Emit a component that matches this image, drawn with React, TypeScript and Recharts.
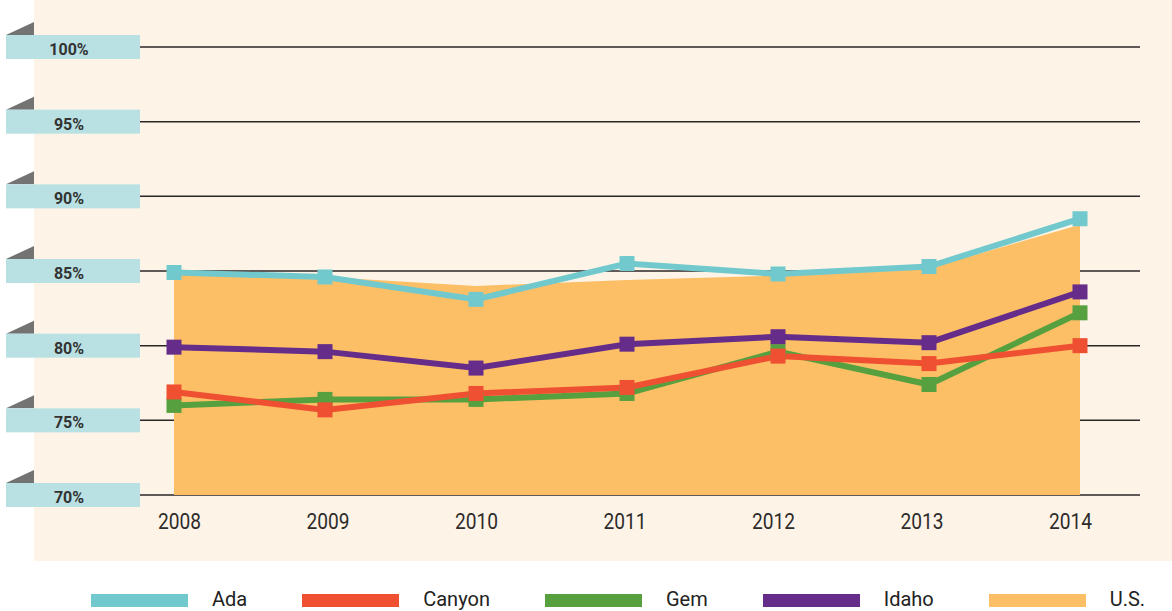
import React from "react";
import {
  ComposedChart,
  Area,
  Line,
  XAxis,
  YAxis,
  CartesianGrid,
} from "recharts";

const years = ["2008", "2009", "2010", "2011", "2012", "2013", "2014"];
const ada = [84.9, 84.6, 83.1, 85.5, 84.8, 85.3, 88.5];
const canyon = [76.9, 75.7, 76.8, 77.2, 79.3, 78.8, 80.0];
const gem = [76.0, 76.4, 76.4, 76.8, 79.6, 77.4, 82.2];
const idaho = [79.9, 79.6, 78.5, 80.1, 80.6, 80.2, 83.6];
const us = [85.1, 84.6, 84.0, 84.4, 84.7, 85.2, 88.1];
const yTicks = [70, 75, 80, 85, 90, 95, 100];

const legendNames = ["Ada", "Canyon", "Gem", "Idaho", "U.S."];
const legendColors = ["#72c9cd", "#ef5032", "#57a03f", "#652d89", "#fcbf66"];

const data = years.map((year, i) => ({
  year,
  ada: ada[i],
  canyon: canyon[i],
  gem: gem[i],
  idaho: idaho[i],
  us: us[i],
}));

const squareDot = (color: string, name: string) => (props: any) => {
  const { cx, cy, index } = props;
  if (cx == null || cy == null) return <g key={`${name}-${index}`} />;
  return (
    <rect
      key={`${name}-${index}`}
      x={cx - 7.5}
      y={cy - 7.5}
      width={15}
      height={15}
      fill={color}
    />
  );
};

const YTick = (props: any) => {
  const { y, payload } = props;
  return (
    <g>
      <polygon points={`6,${y - 12} 34,${y - 12} 34,${y - 25}`} fill="#737373" />
      <rect x={6} y={y - 12} width={134} height={24} fill="#b9e1e3" />
      <text
        x={69}
        y={y + 8}
        textAnchor="middle"
        fontFamily="Roboto"
        fontWeight={700}
        fontSize={16}
        fill="#333"
      >
        {payload.value}%
      </text>
    </g>
  );
};

// year labels sit a little off the points in the original, drifting left
const XTick = (props: any) => {
  const { x, y, payload, index } = props;
  const lx = x + 5.6 - 2.5 * index;
  return (
    <text
      transform={`translate(${lx},${y + 34}) scale(0.87,1)`}
      textAnchor="middle"
      fontFamily="Roboto"
      fontSize={22}
      fill="#2e2b2b"
    >
      {payload.value}
    </text>
  );
};

export default function App() {
  return (
    <div
      style={{
        position: "fixed",
        left: 0,
        top: 0,
        width: 1172,
        height: 611,
        background: "#fff",
        overflow: "hidden",
        fontFamily: "Roboto",
      }}
    >
      <div
        style={{
          position: "absolute",
          left: 34,
          top: 0,
          width: 1138,
          height: 561,
          background: "#fdf4e7",
        }}
      />
      <div style={{ position: "absolute", left: 0, top: 0 }}>
        <ComposedChart
          width={1172}
          height={561}
          data={data}
          margin={{ top: 47, right: 32, bottom: 26, left: 0 }}
        >
          <CartesianGrid
            horizontal
            vertical={false}
            stroke="#2a2627"
            strokeWidth={1.5}
          />
          <XAxis
            dataKey="year"
            scale="point"
            padding={{ left: 34, right: 60 }}
            axisLine={false}
            tickLine={false}
            tickSize={0}
            tickMargin={0}
            height={40}
            tick={<XTick />}
          />
          <YAxis
            domain={[70, 100]}
            ticks={yTicks}
            width={140}
            axisLine={false}
            tickLine={false}
            tick={<YTick />}
          />
          <Area
            dataKey="us"
            type="linear"
            fill="#fcbf66"
            fillOpacity={1}
            stroke="none"
            isAnimationActive={false}
            dot={false}
            activeDot={false}
          />
          <Line
            dataKey="ada"
            type="linear"
            stroke="#72c9cd"
            strokeWidth={6}
            dot={squareDot("#72c9cd", "ada")}
            activeDot={false}
            isAnimationActive={false}
          />
          <Line
            dataKey="gem"
            type="linear"
            stroke="#57a03f"
            strokeWidth={6}
            dot={squareDot("#57a03f", "gem")}
            activeDot={false}
            isAnimationActive={false}
          />
          <Line
            dataKey="canyon"
            type="linear"
            stroke="#ef5032"
            strokeWidth={6}
            dot={squareDot("#ef5032", "canyon")}
            activeDot={false}
            isAnimationActive={false}
          />
          <Line
            dataKey="idaho"
            type="linear"
            stroke="#652d89"
            strokeWidth={6}
            dot={squareDot("#652d89", "idaho")}
            activeDot={false}
            isAnimationActive={false}
          />
        </ComposedChart>
      </div>
      <div
        style={{
          position: "absolute",
          left: 91,
          top: 589,
          display: "flex",
          alignItems: "flex-start",
        }}
      >
        {legendNames.map((name, i) => (
          <div
            key={name}
            style={{ display: "flex", alignItems: "flex-start", marginRight: 55 }}
          >
            <div
              style={{
                width: 97,
                height: 13,
                marginTop: 5,
                background: legendColors[i],
              }}
            />
            <div
              style={{
                marginLeft: 24,
                fontSize: 20,
                lineHeight: "20px",
                color: "#222",
              }}
            >
              {name}
            </div>
          </div>
        ))}
      </div>
    </div>
  );
}
